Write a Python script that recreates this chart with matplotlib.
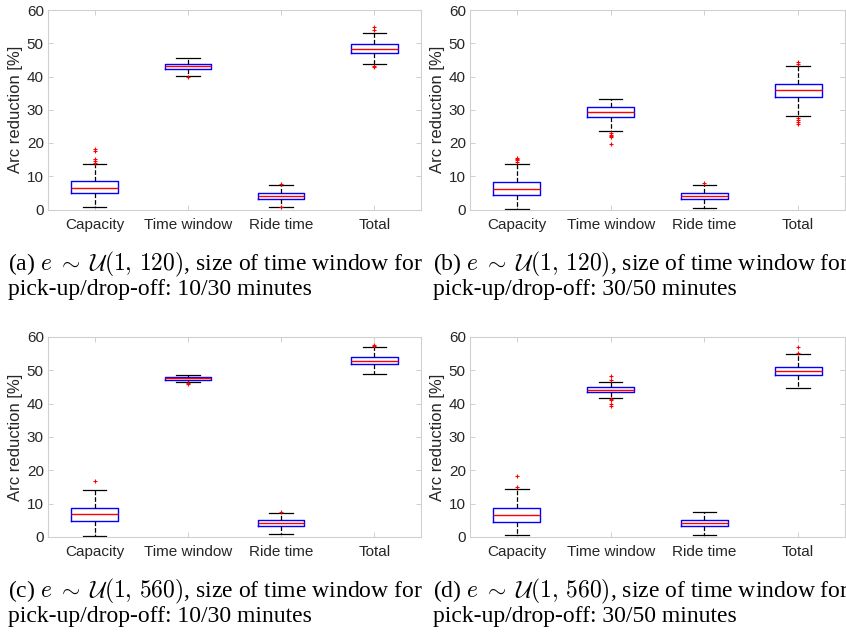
import matplotlib.pyplot as plt

plt.rcParams["font.family"] = "Liberation Sans"
plt.rcParams["mathtext.fontset"] = "cm"

# categories and caption pieces
labels = ["Capacity", "Time window", "Ride time", "Total"]
panel_ids = ["a", "b", "c", "d"]
e_ranges = ["1,\\,120", "1,\\,120", "1,\\,560", "1,\\,560"]
windows = ["10/30", "30/50", "10/30", "30/50"]

# box statistics, one row per panel (a, b, c, d)
whisker_low = [
    [0.9, 40.3, 0.9, 43.9],
    [0.1, 23.5, 0.6, 28.1],
    [0.4, 46.5, 0.9, 48.9],
    [0.6, 41.8, 0.6, 44.7],
]
q1 = [
    [5.0, 42.4, 3.3, 47.2],
    [4.5, 27.8, 3.2, 33.8],
    [4.8, 47.2, 3.2, 51.8],
    [4.6, 43.6, 3.2, 48.5],
]
median = [
    [6.6, 43.1, 4.1, 48.3],
    [6.1, 29.4, 4.1, 36.0],
    [6.9, 47.6, 4.2, 52.8],
    [6.5, 44.2, 4.2, 49.9],
]
q3 = [
    [8.5, 43.9, 5.1, 49.7],
    [8.2, 30.7, 5.0, 37.7],
    [8.6, 48.0, 5.0, 53.9],
    [8.6, 44.9, 5.0, 51.1],
]
whisker_high = [
    [13.6, 45.6, 7.4, 53.1],
    [13.8, 33.3, 7.5, 43.3],
    [14.2, 48.5, 7.1, 56.9],
    [14.5, 46.6, 7.4, 54.9],
]
outliers = [
    [[14.1, 14.6, 15.1, 17.7, 18.2], [39.7], [7.6, 0.8], [42.8, 43.1, 54.0, 54.8]],
    [[14.4, 14.8, 15.2, 15.6], [19.6, 21.8, 22.0, 22.5, 23.0], [7.9], [25.6, 26.4, 27.0, 27.6, 43.8, 44.3]],
    [[16.8], [46.0, 46.3], [7.6], [57.4, 57.7]],
    [[15.0, 18.4], [39.4, 40.0, 41.0, 41.5, 47.0, 48.4], [], [55.2, 56.9]],
]

fig = plt.figure(figsize=(8.46, 6.37), dpi=100)
W, H = 846, 637
# axes boxes in pixels: left, top, right, bottom
boxes_px = [(48, 10, 421, 209.5), (470, 10, 845, 209.5),
            (48, 337, 421, 537), (470, 337, 845, 537)]
caption_px = [(8, 270, 295), (433, 270, 295), (8, 597, 622), (433, 597, 622)]

grey = "#262626"
for p in range(4):
    l, t, r, b = boxes_px[p]
    ax = fig.add_axes([l / W, 1 - b / H, (r - l) / W, (b - t) / H])
    stats = []
    for i in range(4):
        stats.append(dict(whislo=whisker_low[p][i], q1=q1[p][i], med=median[p][i],
                          q3=q3[p][i], whishi=whisker_high[p][i],
                          fliers=outliers[p][i], label=labels[i]))
    ax.bxp(stats, positions=[1, 2, 3, 4], widths=0.5,
           boxprops=dict(color="blue", linewidth=1.0),
           medianprops=dict(color="red", linewidth=1.0),
           whiskerprops=dict(color="black", linestyle="--", linewidth=0.9),
           capprops=dict(color="black", linewidth=0.9),
           flierprops=dict(marker="+", markeredgecolor="red", markersize=3, markeredgewidth=0.8))
    ax.set_xlim(0.5, 4.5)
    ax.set_ylim(0, 60)
    ax.set_yticks(range(0, 61, 10))
    ax.set_xticks([1, 2, 3, 4])
    ax.set_xticklabels(labels)
    for s in ax.spines.values():
        s.set_color("#d0d0d0")
        s.set_linewidth(0.8)
    ax.tick_params(direction="in", length=3.5, width=0.6, color="#c8c8c8",
                   labelcolor=grey, labelsize=11, top=True, right=True)
    ax.tick_params(axis="x", pad=6)
    ax.tick_params(axis="y", pad=3)
    ax.set_ylabel("Arc reduction [%]", fontsize=12, color=grey, labelpad=3)

    cx, y1, y2 = caption_px[p]
    fig.text(cx / W, 1 - y1 / H,
             "(" + panel_ids[p] + ") $e\\;\\sim\\;\\mathcal{U}(" + e_ranges[p] + ")$, size of time window for",
             fontfamily="Liberation Serif", fontsize=17, va="baseline", ha="left")
    fig.text(cx / W, 1 - y2 / H,
             "pick-up/drop-off: " + windows[p] + " minutes",
             fontfamily="Liberation Serif", fontsize=17, va="baseline", ha="left")

fig.savefig("out.png", dpi=100)
